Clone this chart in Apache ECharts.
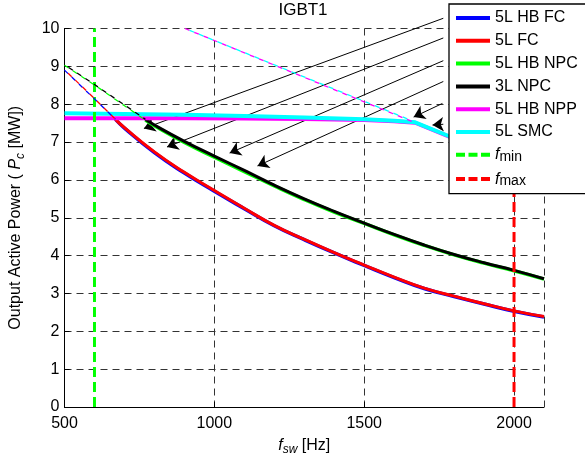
<!DOCTYPE html>
<html>
<head>
<meta charset="utf-8">
<script src="https://cdn.jsdelivr.net/npm/echarts@6/dist/echarts.min.js"></script>
<style>
html, body { margin: 0; padding: 0; background: #fff; }
#chart { width: 585px; height: 461px; }
</style>
</head>
<body>
<div id="chart"></div>
<script>
// switching frequency [Hz] and output power [MW]
var fcFreq = [500, 600, 670, 700, 800, 900, 1000, 1100, 1200, 1300, 1400, 1500, 1600, 1700, 1800, 1900, 2000, 2100];
var hbFc = [8.90, 8.14, 7.60, 7.37, 6.72, 6.18, 5.70, 5.24, 4.79, 4.42, 4.07, 3.74, 3.42, 3.13, 2.92, 2.72, 2.53, 2.38];
var fc5 = [8.91, 8.15, 7.60, 7.38, 6.74, 6.20, 5.72, 5.25, 4.80, 4.43, 4.08, 3.75, 3.43, 3.14, 2.93, 2.73, 2.54, 2.39];
var fcSolidFrom = 670;

var npcFreq = [500, 600, 700, 770, 800, 900, 1000, 1100, 1200, 1300, 1400, 1500, 1600, 1700, 1800, 1900, 2000, 2100];
var hbNpc = [9.03, 8.51, 7.96, 7.58, 7.43, 6.99, 6.60, 6.22, 5.84, 5.48, 5.15, 4.85, 4.55, 4.27, 4.02, 3.80, 3.60, 3.38];
var npc3 = [9.04, 8.52, 7.98, 7.60, 7.45, 7.02, 6.63, 6.25, 5.86, 5.50, 5.17, 4.86, 4.56, 4.28, 4.03, 3.81, 3.61, 3.39];
var npcSolidFrom = 770;

var flatFreq = [500, 700, 900, 1100, 1300, 1500, 1600, 1670, 1800, 1900, 2000, 2100];
var hbNpp = [7.63, 7.63, 7.63, 7.62, 7.61, 7.58, 7.55, 7.51, 7.09, 6.77, 6.45, 6.12];
var smc5 = [7.76, 7.74, 7.72, 7.69, 7.65, 7.60, 7.56, 7.52, 7.10, 6.78, 6.46, 6.13];

// dashed upper limit of NPP / SMC
var limFreq = [902, 1670];
var nppLim = [10.0, 7.51];
var smcLim = [10.0, 7.53];

var fMin = 600, fMax = 2000;
var yRange = [0, 10];

// annotation arrows (from -> to), data units
var arrowFrom = [[1764, 10.27], [1764, 9.75], [1764, 9.15], [1764, 8.60], [1761, 8.02], [1764, 7.47]];
var arrowTo = [[765, 7.36], [842, 6.87], [1051, 6.71], [1144, 6.37], [1665, 7.66], [1728, 7.45]];

var legendNames = ['5L HB FC', '5L FC', '5L HB NPC', '3L NPC', '5L HB NPP', '5L SMC', 'fmin', 'fmax'];

var solidIcon = 'path://M0,0H34V4H0Z';
var dashIcon = 'path://M0,0H9V4H0Z M12.5,0H21.5V4H12.5Z M25,0H34V4H25Z';

function pairs(xs, ys, lo, hi) {
    var out = [];
    for (var i = 0; i < xs.length; i++) {
        if (xs[i] >= lo && xs[i] <= hi) out.push([xs[i], ys[i]]);
    }
    return out;
}

function solid(name, color, xs, ys, from, width, smooth) {
    return {
        name: name, type: 'line', symbol: 'none', smooth: smooth,
        data: pairs(xs, ys, from, 1e9),
        lineStyle: { color: color, width: width }, itemStyle: { color: color }
    };
}

function dashed(name, color, xs, ys, to, offset) {
    return {
        name: name, type: 'line', symbol: 'none',
        data: pairs(xs, ys, 0, to),
        lineStyle: { color: color, width: 1.3, type: [5, 5], dashOffset: offset || 0 },
        itemStyle: { color: color }
    };
}

function vline(name, color, x) {
    return {
        name: name, type: 'line', symbol: 'none',
        data: [[x, yRange[0]], [x, yRange[1]]],
        lineStyle: { color: color, width: 3, type: [10, 5] }, itemStyle: { color: color }
    };
}

var font = 'Liberation Sans, Arial, sans-serif';

var arrows = [];
for (var i = 0; i < arrowFrom.length; i++) arrows.push({ coords: [arrowFrom[i], arrowTo[i]] });

var legendData = legendNames.map(function (n) {
    return { name: n, icon: (n === 'fmin' || n === 'fmax') ? dashIcon : solidIcon };
});

var option = {
    animation: false,
    textStyle: { fontFamily: font },
    title: {
        text: 'IGBT1', left: 303, top: 2, padding: 0, textAlign: 'center',
        textStyle: { fontSize: 17, fontWeight: 'normal', color: '#000', fontFamily: font }
    },
    grid: { left: 62, right: 41, top: 28.5, bottom: 50.5 },
    legend: {
        data: legendData,
        orient: 'vertical', left: 449, top: 4,
        padding: [6, 20, 5, 7], itemGap: 6.8,
        itemWidth: 34, itemHeight: 4,
        backgroundColor: '#fff', borderColor: '#000', borderWidth: 1.3,
        textStyle: {
            fontSize: 16, color: '#000', fontFamily: font,
            rich: {
                f: { fontSize: 16, fontStyle: 'italic', fontFamily: font },
                s: { fontSize: 14, fontFamily: font, padding: [5, 0, 0, 0] }
            }
        },
        formatter: function (n) {
            if (n === 'fmin') return '{f|f}{s|min}';
            if (n === 'fmax') return '{f|f}{s|max}';
            return n;
        }
    },
    xAxis: {
        type: 'value', min: 500, max: 2100, interval: 500,
        name: '{f|f}{s|sw}{t| [Hz]}', nameLocation: 'middle', nameGap: 28,
        nameTextStyle: {
            color: '#000',
            rich: {
                f: { fontSize: 16, fontStyle: 'italic', fontFamily: font },
                s: { fontSize: 12, fontStyle: 'italic', fontFamily: font, padding: [9, 0, 0, 0] },
                t: { fontSize: 16, fontFamily: font }
            }
        },
        axisLine: { lineStyle: { color: '#000', width: 1 } },
        axisTick: { inside: true, length: 5, lineStyle: { color: '#000' } },
        axisLabel: {
            fontSize: 16, color: '#000', margin: 9, showMaxLabel: false, fontFamily: font,
            formatter: function (v) { return String(v); }
        },
        splitLine: { show: true, lineStyle: { color: '#333', type: [7, 5], width: 1 } }
    },
    yAxis: {
        type: 'value', min: yRange[0], max: yRange[1], interval: 1,
        name: '{t|Output Active Power ( }{p|P}{s|c}{t| [MW])}', nameLocation: 'middle', nameGap: 38,
        nameTextStyle: {
            color: '#000',
            rich: {
                t: { fontSize: 16, fontFamily: font },
                p: { fontSize: 16, fontStyle: 'italic', fontFamily: font },
                s: { fontSize: 12, fontStyle: 'italic', fontFamily: font, padding: [9, 0, 0, 0] }
            }
        },
        axisLine: { show: true, lineStyle: { color: '#000', width: 1 } },
        axisTick: { show: true, inside: true, length: 5, lineStyle: { color: '#000' } },
        axisLabel: { fontSize: 16, color: '#000', margin: 5, fontFamily: font },
        splitLine: { show: true, lineStyle: { color: '#333', type: [7, 5], width: 1 } }
    },
    series: [
        solid('5L HB FC', '#0000ff', fcFreq, hbFc, fcSolidFrom, 3.5, true),
        solid('5L FC', '#ff0000', fcFreq, fc5, fcSolidFrom, 3, true),
        solid('5L HB NPC', '#00ff00', npcFreq, hbNpc, npcSolidFrom, 3.5, true),
        solid('3L NPC', '#000000', npcFreq, npc3, npcSolidFrom, 3, true),
        solid('5L HB NPP', '#ff00ff', flatFreq, hbNpp, 0, 4, false),
        solid('5L SMC', '#00ffff', flatFreq, smc5, 0, 4, false),
        vline('fmin', '#00ff00', fMin),
        vline('fmax', '#ff0000', fMax),
        dashed('5L HB FC', '#0000ff', fcFreq, hbFc, fcSolidFrom, 0),
        dashed('5L FC', '#ff0000', fcFreq, fc5, fcSolidFrom, 5),
        dashed('5L HB NPC', '#00ff00', npcFreq, hbNpc, npcSolidFrom, 0),
        dashed('3L NPC', '#000000', npcFreq, npc3, npcSolidFrom, 5),
        dashed('5L HB NPP', '#ff00ff', limFreq, nppLim, 1e9, 0),
        dashed('5L SMC', '#00ffff', limFreq, smcLim, 1e9, 5),
        {
            type: 'lines', coordinateSystem: 'cartesian2d', clip: false,
            symbol: ['none', 'arrow'], symbolSize: [0, 11],
            lineStyle: { color: '#000', width: 1, opacity: 1 },
            data: arrows, z: 3
        }
    ]
};

var chart = echarts.init(document.getElementById('chart'));
chart.setOption(option);
</script>
</body>
</html>
